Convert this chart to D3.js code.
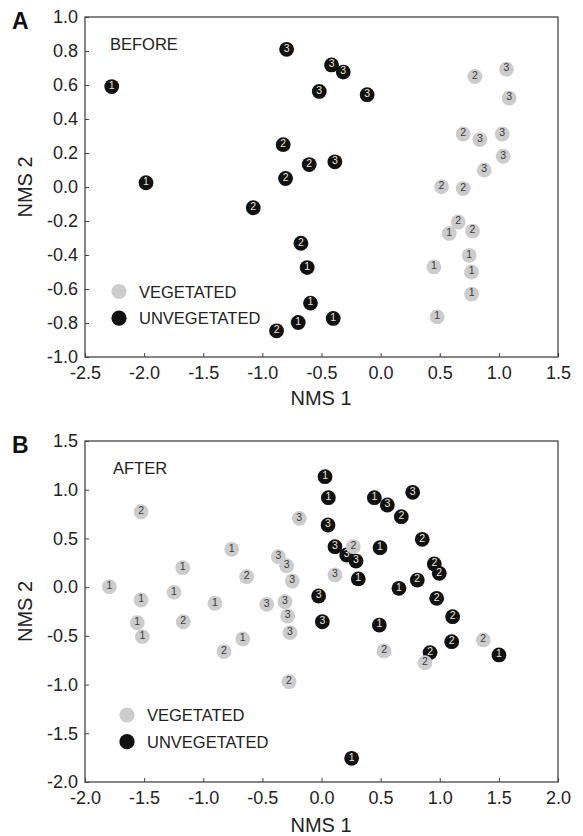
<!DOCTYPE html>
<html>
<head>
<meta charset="utf-8">
<script src="https://cdn.jsdelivr.net/npm/d3@7"></script>
<style>
  body { margin: 0; background: #fff; }
  svg text { font-family: "Liberation Sans", Arial, sans-serif; }
</style>
</head>
<body>
<div id="chart"></div>
<script>
// [NMS 1, NMS 2, site label]
const beforeVegetated = [
    [0.797, 0.650, 2], [1.064, 0.693, 3], [1.087, 0.523, 3], [0.698, 0.312, 2],
    [0.839, 0.279, 3], [1.028, 0.312, 3], [1.036, 0.181, 3], [0.876, 0.099, 3],
    [0.515, 0.001, 2], [0.698, -0.009, 2], [0.656, -0.206, 2], [0.580, -0.273, 1],
    [0.777, -0.259, 2], [0.749, -0.402, 1], [0.450, -0.470, 1], [0.769, -0.500, 1],
    [0.769, -0.630, 1], [0.478, -0.764, 1],
];
const beforeUnvegetated = [
    [-2.274, 0.591, 1], [-1.984, 0.025, 1], [-0.795, 0.810, 3], [-0.415, 0.718, 3],
    [-0.316, 0.676, 3], [-0.519, 0.562, 3], [-0.114, 0.543, 3], [-0.824, 0.249, 2],
    [-0.604, 0.132, 2], [-0.387, 0.148, 3], [-0.804, 0.050, 2], [-1.077, -0.122, 2],
    [-0.674, -0.331, 2], [-0.621, -0.474, 1], [-0.593, -0.683, 1], [-0.401, -0.773, 1],
    [-0.697, -0.797, 1], [-0.880, -0.846, 2],
];
const afterVegetated = [
    [-1.526, 0.774, 2], [-0.188, 0.706, 3], [-0.760, 0.388, 1], [-1.174, 0.200, 1],
    [-0.365, 0.312, 3], [-0.295, 0.220, 3], [-0.633, 0.107, 2], [-0.247, 0.063, 3],
    [-1.794, 0.005, 1], [-1.247, -0.053, 1], [-1.526, -0.132, 1], [-0.901, -0.166, 1],
    [-0.463, -0.176, 3], [-0.309, -0.149, 3], [-0.286, -0.296, 3], [-1.558, -0.365, 1],
    [-1.169, -0.355, 2], [-1.515, -0.508, 1], [-0.266, -0.467, 3], [-0.666, -0.532, 1],
    [-0.825, -0.662, 2], [-0.275, -0.970, 2], [0.269, 0.415, 2], [0.114, 0.125, 3],
    [0.529, -0.655, 2], [1.368, -0.542, 2], [0.875, -0.775, 2],
];
const afterUnvegetated = [
    [0.030, 1.134, 1], [0.058, 0.918, 1], [0.055, 0.638, 3], [0.114, 0.415, 3],
    [0.213, 0.330, 3], [0.292, 0.268, 3], [0.311, 0.084, 1], [-0.024, -0.091, 3],
    [0.007, -0.355, 3], [0.447, 0.918, 1], [0.557, 0.843, 3], [0.675, 0.723, 2],
    [0.771, 0.973, 3], [0.852, 0.491, 2], [0.495, 0.405, 1], [0.655, -0.012, 1],
    [0.810, 0.073, 2], [0.954, 0.238, 2], [0.996, 0.142, 2], [0.974, -0.115, 2],
    [1.109, -0.303, 2], [0.489, -0.389, 1], [1.101, -0.560, 2], [0.918, -0.672, 2],
    [1.501, -0.696, 1], [0.255, -1.757, 1],
];

const xTicksA = [-2.5, -2.0, -1.5, -1.0, -0.5, 0.0, 0.5, 1.0, 1.5];
const yTicksA = [1.0, 0.8, 0.6, 0.4, 0.2, 0.0, -0.2, -0.4, -0.6, -0.8, -1.0];
const xTicksB = [-2.0, -1.5, -1.0, -0.5, 0.0, 0.5, 1.0, 1.5, 2.0];
const yTicksB = [1.5, 1.0, 0.5, 0.0, -0.5, -1.0, -1.5, -2.0];

const groupNames = ['VEGETATED', 'UNVEGETATED'];

const fill = { veg: '#cccccc', unveg: '#111111' };
const numColor = { veg: '#3a3a3a', unveg: '#ece6d6' };

const svg = d3.select('#chart').append('svg')
    .attr('width', 583)
    .attr('height', 836);

function drawPanel(opts) {
    const g = svg.append('g');
    const x = d3.scaleLinear().domain(opts.xDomain).range([85, 558]);
    const y = d3.scaleLinear().domain(opts.yDomain).range([opts.bottom, opts.top]);
    const fmt = (d) => d.toFixed(1);

    const xAxis = g.append('g')
        .attr('transform', `translate(0, ${opts.bottom})`)
        .call(d3.axisBottom(x).tickValues(opts.xTicks).tickSize(-4).tickPadding(opts.xPad).tickFormat(fmt));
    const yAxis = g.append('g')
        .attr('transform', 'translate(85, 0)')
        .call(d3.axisLeft(y).tickValues(opts.yTicks).tickSize(-4).tickPadding(7).tickFormat(fmt));

    [xAxis, yAxis].forEach((a) => {
        a.select('.domain').remove();
        a.selectAll('line').attr('stroke', '#444');
        a.selectAll('text')
            .attr('font-size', '18px')
            .attr('fill', '#222')
            .attr('font-family', '"Liberation Sans", Arial, sans-serif');
    });

    g.append('rect')
        .attr('x', 85)
        .attr('y', opts.top)
        .attr('width', 558 - 85)
        .attr('height', opts.bottom - opts.top)
        .attr('fill', 'none')
        .attr('stroke', '#444')
        .attr('stroke-width', 1.3);

    // panel letter, axis titles, in-plot title
    g.append('text')
        .attr('x', 12)
        .attr('y', opts.top + 12)
        .attr('font-size', '23px')
        .attr('font-weight', 'bold')
        .attr('fill', '#111')
        .text(opts.letter);

    g.append('text')
        .attr('x', 321)
        .attr('y', opts.bottom + opts.titleGap)
        .attr('text-anchor', 'middle')
        .attr('font-size', '20px')
        .attr('fill', '#222')
        .text('NMS 1');

    g.append('text')
        .attr('transform', `translate(32, ${(opts.top + opts.bottom) / 2}) rotate(-90)`)
        .attr('text-anchor', 'middle')
        .attr('font-size', '20px')
        .attr('fill', '#222')
        .text('NMS 2');

    g.append('text')
        .attr('x', opts.titleX)
        .attr('y', opts.top + 33)
        .attr('font-size', '16.5px')
        .attr('fill', '#222')
        .text(opts.title);

    // points
    const layers = [
        { key: 'veg', data: opts.veg },
        { key: 'unveg', data: opts.unveg },
    ];
    if (opts.vegOnTop) layers.reverse();

    layers.forEach((layer) => {
        const pts = g.append('g')
            .selectAll('g')
            .data(layer.data)
            .join('g')
            .attr('transform', (d) => `translate(${x(d[0])}, ${y(d[1])})`);
        pts.append('circle')
            .attr('r', 7.4)
            .attr('fill', fill[layer.key]);
        pts.append('text')
            .attr('y', -0.5)
            .attr('text-anchor', 'middle')
            .attr('dominant-baseline', 'middle')
            .attr('font-size', '10.5px')
            .attr('fill', numColor[layer.key])
            .text((d) => d[2]);
    });

    // legend
    const legend = g.append('g')
        .selectAll('g')
        .data(groupNames)
        .join('g')
        .attr('transform', (d, i) => `translate(${opts.legendX}, ${opts.legendY + i * 26.7})`);
    legend.append('circle')
        .attr('r', 7.6)
        .attr('fill', (d, i) => (i === 0 ? fill.veg : fill.unveg));
    legend.append('text')
        .attr('x', 20)
        .attr('y', 6)
        .attr('font-size', '16.5px')
        .attr('fill', '#222')
        .text((d) => d);
}

drawPanel({
    letter: 'A',
    title: 'BEFORE',
    titleX: 110,
    top: 17,
    bottom: 357,
    xPad: 9,
    titleGap: 48,
    xDomain: [-2.5, 1.5],
    yDomain: [-1.0, 1.0],
    xTicks: xTicksA,
    yTicks: yTicksA,
    veg: beforeVegetated,
    unveg: beforeUnvegetated,
    legendX: 119,
    legendY: 291.5,
    vegOnTop: false,
});

drawPanel({
    letter: 'B',
    title: 'AFTER',
    titleX: 113,
    top: 441,
    bottom: 782,
    xPad: 9,
    titleGap: 50,
    xDomain: [-2.0, 2.0],
    yDomain: [-2.0, 1.5],
    xTicks: xTicksB,
    yTicks: yTicksB,
    veg: afterVegetated,
    unveg: afterUnvegetated,
    legendX: 127,
    legendY: 715,
    vegOnTop: true,
});
</script>
</body>
</html>
